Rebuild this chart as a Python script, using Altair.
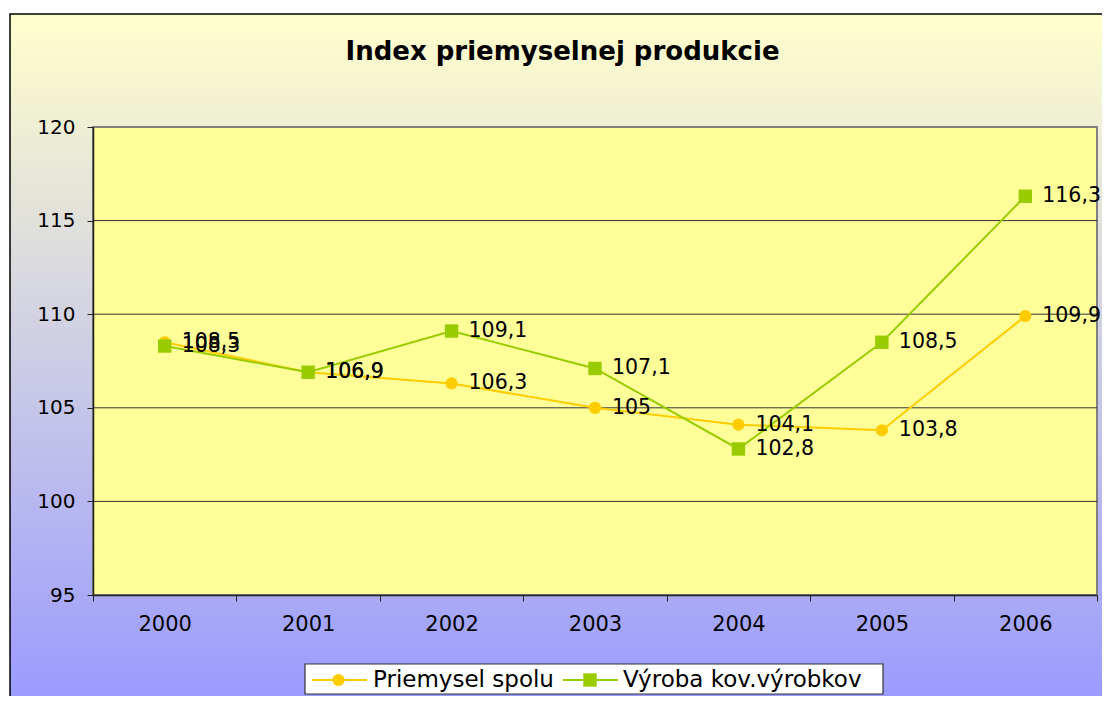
import altair as alt
import pandas as pd

# ---- data ----
years = ["2000", "2001", "2002", "2003", "2004", "2005", "2006"]
series_names = ["Priemysel spolu", "Výroba kov.výrobkov"]
priemysel = [108.5, 106.9, 106.3, 105.0, 104.1, 103.8, 109.9]
vyroba = [108.3, 106.9, 109.1, 107.1, 102.8, 108.5, 116.3]
y_ticks = [95, 100, 105, 110, 115, 120]
title_text = "Index priemyselnej produkcie"

colors = ["#FFCC00", "#99CC00"]
shapes = ["circle", "square"]
sizes = [150, 180]

rows = []
for name, vals in zip(series_names, [priemysel, vyroba]):
    for yr, v in zip(years, vals):
        rows.append({"year": yr, "series": name, "value": v,
                     "label": f"{v:g}".replace(".", ",")})
df = pd.DataFrame(rows)
grid_df = pd.DataFrame({"value": [t for t in y_ticks if t not in (min(y_ticks), max(y_ticks))]})
one = pd.DataFrame({"k": [0]})

W, H = 1004, 468
FONT = "DejaVu Sans"

x_enc = alt.X("year:N", sort=years, bandPosition=0.5,
              scale=alt.Scale(type="band", paddingInner=0, paddingOuter=0),
              axis=alt.Axis(title=None, labelAngle=0, tickBand="extent", tickSize=6,
                            tickColor="#222", domainColor="#222", domainWidth=1.5,
                            labelFontSize=21, labelFont=FONT, labelColor="black",
                            labelPadding=12, zindex=1))
y_enc = alt.Y("value:Q",
              scale=alt.Scale(domain=[min(y_ticks), max(y_ticks)], nice=False, zero=False),
              axis=alt.Axis(title=None, values=y_ticks, grid=False, tickSize=6,
                            tickColor="#222", domainColor="#222", domainWidth=1.5,
                            labelFontSize=20, labelFont=FONT, labelColor="black",
                            labelPadding=12, zindex=1))

# background gradient with frame
bg = alt.Chart(one).mark_rect(
    fill=alt.Gradient(gradient="linear",
                      stops=[alt.GradientStop(color="#FFFFCC", offset=0),
                             alt.GradientStop(color="#9999FF", offset=1)],
                      x1=0, x2=0, y1=0, y2=1),
    stroke="#000000", strokeWidth=1.5
).encode(x=alt.value(-83), x2=alt.value(W + 40), y=alt.value(-113), y2=alt.value(H + 115))

# plot area
plotbg = alt.Chart(one).mark_rect(fill="#FFFF99", stroke="#808080", strokeWidth=2).encode(
    x=alt.value(0), x2=alt.value(W), y=alt.value(0), y2=alt.value(H))

grid = alt.Chart(grid_df).mark_rule(color="#333333", strokeWidth=1).encode(y=y_enc)

title = alt.Chart(one).mark_text(fontSize=26, fontWeight="bold", font=FONT, color="black",
                                  align="center", baseline="middle").encode(
    x=alt.value(469.5), y=alt.value(-75), text=alt.value(title_text))

layers = [bg, plotbg, grid, title]
for name, col, shp, sz in zip(series_names, colors, shapes, sizes):
    base = alt.Chart(df).transform_filter(alt.datum.series == name)
    layers.append(base.mark_line(color=col, strokeWidth=2).encode(x=x_enc, y=y_enc))
    layers.append(base.mark_point(shape=shp, filled=True, size=sz, color=col, opacity=1)
                  .encode(x=x_enc, y=y_enc))

labels = alt.Chart(df).mark_text(align="left", baseline="middle", dx=17, fontSize=20.5,
                                 font=FONT, color="black").encode(
    x=x_enc, y=y_enc, text="label:N")
layers.append(labels)

# legend (manual)
LY = 553
legend_box = alt.Chart(one).mark_rect(fill="white", stroke="#333333", strokeWidth=1.2).encode(
    x=alt.value(212), x2=alt.value(790), y=alt.value(537), y2=alt.value(567))
layers.append(legend_box)
leg_pos = [(219, 274, 245.5, 280), (470, 525, 497, 530)]
for (r0, r1, px, tx), name, col, shp, sz in zip(leg_pos, series_names, colors, shapes, sizes):
    layers.append(alt.Chart(one).mark_rule(color=col, strokeWidth=2).encode(
        x=alt.value(r0), x2=alt.value(r1), y=alt.value(LY)))
    layers.append(alt.Chart(one).mark_point(shape=shp, filled=True, size=sz, color=col, opacity=1)
                  .encode(x=alt.value(px), y=alt.value(LY)))
    layers.append(alt.Chart(one).mark_text(align="left", baseline="middle", fontSize=23,
                                           font=FONT, color="black").encode(
        x=alt.value(tx), y=alt.value(LY), text=alt.value(name)))

chart = alt.layer(*layers).properties(
    width=W, height=H,
    padding={"left": 85, "top": 119, "right": 5, "bottom": 101},
    autosize=alt.AutoSizeParams(type="none"),
).configure_view(strokeOpacity=0)

chart.save("out.html", embed_options={"renderer": "svg", "actions": False})
